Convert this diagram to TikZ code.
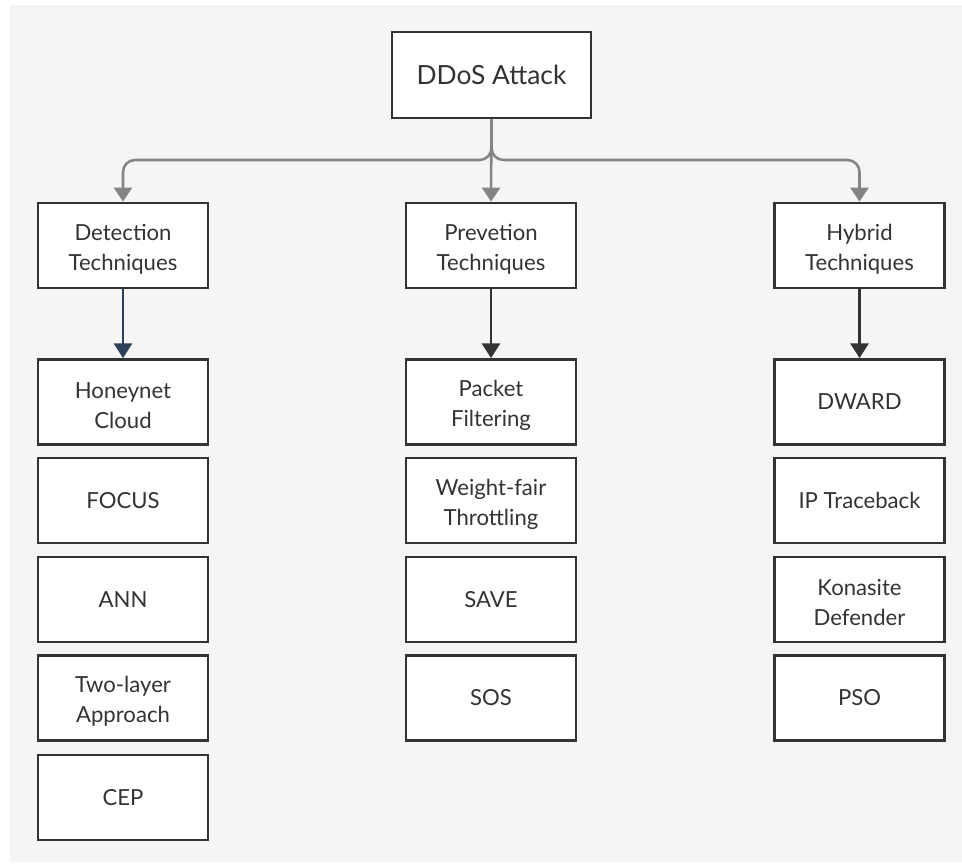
\documentclass[tikz,border=0pt]{standalone}
\usepackage{fontspec}
\setmainfont{Lato}
\usetikzlibrary{arrows.meta}
\definecolor{bgc}{HTML}{F5F5F5}
\definecolor{boxc}{HTML}{333333}
\definecolor{grayc}{HTML}{848484}
\definecolor{navyc}{HTML}{2E3F58}
\begin{document}
\begin{tikzpicture}[x=0.75pt,y=-0.75pt,
  txt/.style={inner sep=0pt,align=center,font=\fontsize{16.6}{22.5}\selectfont,text=boxc},
  box/.style={draw=boxc,line width=2.1pt,fill=white,minimum width=127.5pt,minimum height=63.75pt,inner sep=0pt,align=center,font=\fontsize{16.6}{22.5}\selectfont,text=boxc},
  two/.style={label={[txt,yshift=-2.6pt]center:#1}},
  topbox/.style={box,minimum width=149.25pt,minimum height=64.5pt,font=\fontsize{19.8}{24}\selectfont},
  gcon/.style={draw=grayc,line width=1.9pt,rounded corners=9pt,-{Triangle[width=13.5pt,length=10.5pt]}},
  dcon/.style={draw=boxc,line width=1.9pt,-{Triangle[width=13.5pt,length=11pt]}},
  ncon/.style={dcon,draw=navyc}]
\useasboundingbox (0,0) rectangle (962,865);
\fill[white] (0,0) rectangle (962,865);
\fill[bgc] (10,5) rectangle (962,862);

\node[topbox] (root) at (491.5,75) {DDoS Attack};

\node[box,two={Detection\\Techniques}] (det) at (123,245.5) {};
\node[box,two={Prevetion\\Techniques}] (pre) at (491,245.5) {};
\node[box,two={Hybrid\\Techniques}] (hyb) at (859.5,245.5) {};

\node[box,two={Honeynet\\Cloud}] (d1) at (123,402) {};
\node[box] (d2) at (123,500.5) {FOCUS};
\node[box] (d3) at (123,599.5) {ANN};
\node[box,two={Two-layer\\Approach}] (d4) at (123,698) {};
\node[box] (d5) at (123,797.5) {CEP};

\node[box,two={Packet\\Filtering}] (p1) at (491,402) {};
\node[box,two={Weight-fair\\Throttling}] (p2) at (491,500.5) {};
\node[box] (p3) at (491,599.5) {SAVE};
\node[box] (p4) at (491,698) {SOS};

\node[box] (h1) at (859.5,402) {DWARD};
\node[box] (h2) at (859.5,500.5) {IP Traceback};
\node[box,two={Konasite\\Defender}] (h3) at (859.5,599.5) {};
\node[box] (h4) at (859.5,698) {PSO};

\coordinate (j) at (491.5,160);
\draw[gcon] (root.south) -- (j) -| (det.north);
\draw[gcon] (root.south) -- (j) -| (hyb.north);
\draw[gcon] (root.south) -- (pre.north);

\draw[ncon] (det.south) -- (d1.north);
\draw[dcon] (pre.south) -- (p1.north);
\draw[dcon] (hyb.south) -- (h1.north);
\end{tikzpicture}
\end{document}
